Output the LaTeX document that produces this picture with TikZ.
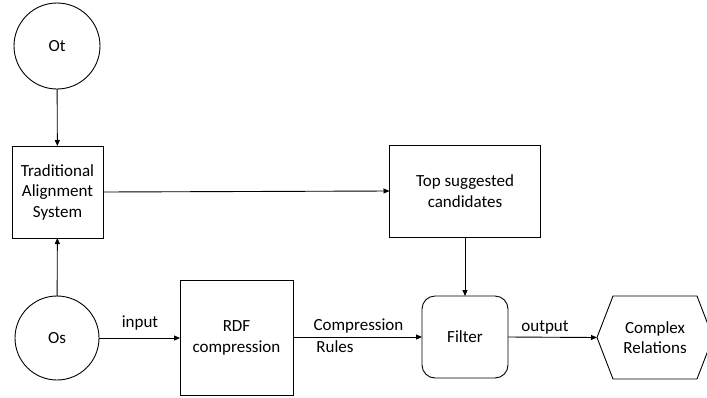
\documentclass[tikz,border=0pt]{standalone}
\usepackage{fontspec}
\setmainfont{Carlito}
\usetikzlibrary{arrows.meta,calc}
\begin{document}
\begin{tikzpicture}[x=1pt,y=-1pt,
  font=\fontsize{17}{20.5}\selectfont,
  every node/.style={inner sep=0pt, outer sep=0pt},
  line width=0.9pt,
  circ/.style={draw, circle, minimum size=86pt},
  box/.style={draw, rectangle, align=center},
  arr/.style={-{Triangle[length=6pt,width=5pt]}},
  lab/.style={anchor=center}]
\useasboundingbox (0,0) rectangle (707,397);
\node[circ] (ot) at (57,46) {Ot};
\node[circ, minimum size=84pt] (os) at (57,338) {Os};
\node[box, minimum width=91pt, minimum height=92pt] (tas) at (57.5,192) {Traditional\\Alignment\\System};
\node[box, minimum width=151pt, minimum height=92pt] (top) at (465,191) {Top suggested\\candidates};
\node[box, minimum width=113pt, minimum height=115pt] (rdf) at (236.5,338) {RDF\\compression};
\node[box, rounded corners=13pt, minimum width=86pt, minimum height=82pt] (filter) at (465,337) {Filter};
\node[minimum width=116pt, minimum height=83pt, align=center] (cr) at (655,337.5) {Complex\\Relations};
\draw (cr.west) -- ([xshift=16pt]cr.north west) -- ([xshift=-16pt]cr.north east) -- (cr.east)
  -- ([xshift=-16pt]cr.south east) -- ([xshift=16pt]cr.south west) -- cycle;

\draw[arr] (ot) -- (tas);
\draw[arr] (os) -- (tas);
\draw[arr] (tas.east) -- (top.west);
\draw[arr] (top) -- (filter);
\draw[arr] (os.east) -- (rdf.west |- os.east);
\draw[arr] (rdf.east |- filter.west) -- (filter.west);
\draw[arr] (filter.east) -- (cr.west);

\node[lab] (linput) at (140,323) {input};
\node[lab] (lcomp) at (358.5,326) {Compression};
\node[lab] (lrules) at (335,347) {Rules};
\node[lab] (lout) at (545,327) {output};
\end{tikzpicture}
\end{document}
